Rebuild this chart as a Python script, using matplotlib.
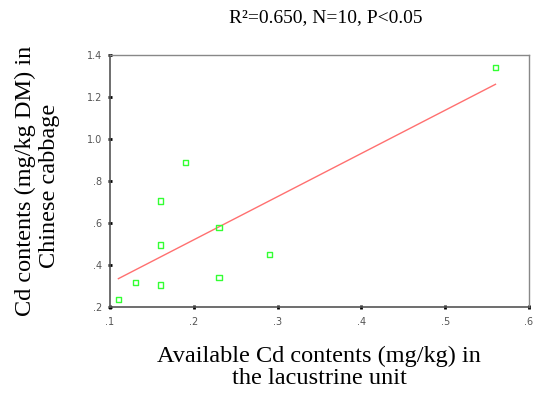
import numpy as np
import matplotlib
matplotlib.use("Agg")
import matplotlib.pyplot as plt

x_avail = [0.11, 0.13, 0.16, 0.16, 0.16, 0.19, 0.23, 0.23, 0.29, 0.56]
y_cd = [0.235, 0.315, 0.305, 0.495, 0.705, 0.89, 0.578, 0.34, 0.45, 1.34]
xticks = [0.1, 0.2, 0.3, 0.4, 0.5, 0.6]
xticklabels = [".1", ".2", ".3", ".4", ".5", ".6"]
yticks = [0.2, 0.4, 0.6, 0.8, 1.0, 1.2, 1.4]
yticklabels = [".2", ".4", ".6", ".8", "1.0", "1.2", "1.4"]

fig = plt.figure(figsize=(5.33, 3.99), dpi=100)
ax = fig.add_axes([110/533, 1-307/399, 419/533, 252/399])

ax.scatter(x_avail, y_cd, marker="s", s=14, facecolors="none",
           edgecolors="#33ff33", linewidths=1.0, zorder=3)
k, b = np.polyfit(x_avail, y_cd, 1)
xl = np.array([min(x_avail), max(x_avail)])
ax.plot(xl, k*xl + b, color="#ff7070", lw=1.0, zorder=2)

ax.set_xlim(0.1, 0.6)
ax.set_ylim(0.2, 1.4)
ax.set_xticks(xticks)
ax.set_xticklabels(xticklabels)
ax.set_yticks(yticks)
ax.set_yticklabels(yticklabels)
ax.tick_params(direction="inout", length=3, width=2, color="black",
               labelsize=7, labelcolor="#555555")
ax.tick_params(axis="x", pad=6)
ax.tick_params(axis="y", pad=4)
for s in ["left", "bottom"]:
    ax.spines[s].set_color("#555555")
    ax.spines[s].set_linewidth(1.2)
for s in ["top", "right"]:
    ax.spines[s].set_color("#888888")
    ax.spines[s].set_linewidth(1.0)

serif = ["Liberation Serif", "DejaVu Serif"]
fig.text(326/533, 1-18/399, "R²=0.650, N=10, P<0.05", ha="center", va="center",
         fontsize=14, family=serif)
fig.text(319/533, 1-356/399, "Available Cd contents (mg/kg) in",
         ha="center", va="center", fontsize=17.5, family=serif)
fig.text(319/533, 1-379/399, "the lacustrine unit",
         ha="center", va="center", fontsize=17.5, family=serif)
fig.text(25/533, 1-181/399, "Cd contents (mg/kg DM) in",
         ha="center", va="center", rotation=90, fontsize=17.5, family=serif)
fig.text(50/533, 1-186/399, "Chinese cabbage",
         ha="center", va="center", rotation=90, fontsize=17.5, family=serif)

fig.savefig("out.png", dpi=100)
